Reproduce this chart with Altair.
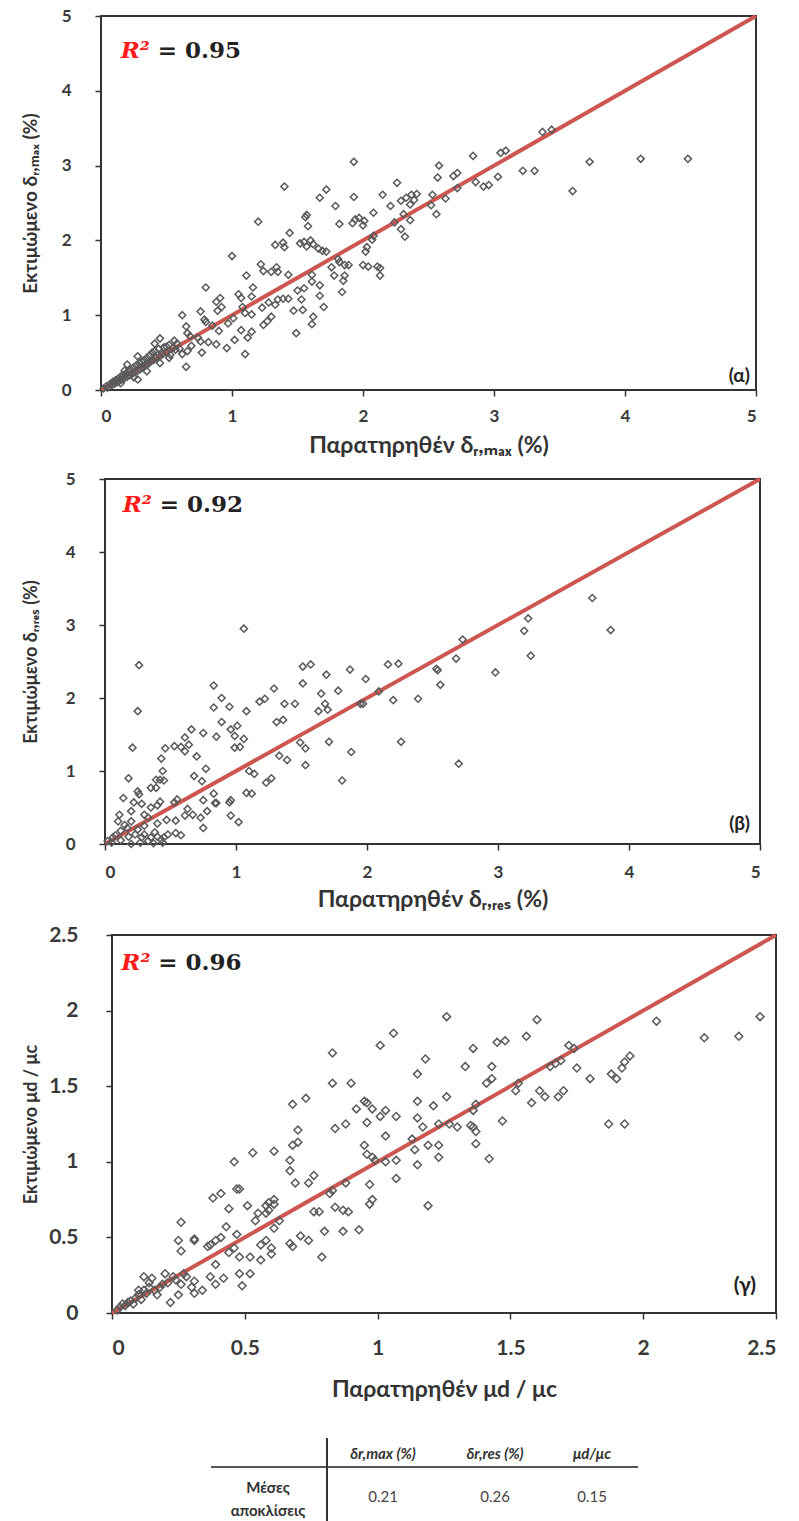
import altair as alt
import pandas as pd

# ---------------- data ----------------
p1_x = [1.93,2.84,3.05,3.09,2.58,2.57,2.69,2.72,3.31,3.03,2.86,2.92,2.96,2.72,2.26,2.53,2.63,2.56,2.52,1.40,1.72,1.67,1.93,2.15,1.79,2.21,2.29,2.33,2.37,2.41,2.39,2.36,2.31,2.08,2.24,2.36,2.29,2.32,1.94,1.97,2.01,1.92,2.00,1.82,1.57,1.56,1.58,1.20,1.44,1.33,1.39,1.40,1.52,1.55,1.60,1.62,1.57,1.66,1.69,1.72,2.08,2.07,2.03,2.02,1.81,1.82,1.86,1.89,2.00,2.04,2.11,2.13,2.13,1.76,1.78,1.86,1.85,1.84,1.00,1.22,1.24,1.30,1.34,1.35,1.43,1.11,1.61,1.61,1.55,1.50,1.53,1.67,1.67,1.70,1.47,1.54,1.62,1.61,1.49,0.80,1.16,1.15,1.05,1.07,1.08,1.10,1.15,0.91,0.88,0.92,0.89,1.23,1.28,1.35,1.39,1.43,1.33,1.30,1.27,1.24,0.97,1.01,0.76,0.79,0.80,0.85,0.90,1.07,1.15,1.12,1.02,1.10,0.62,0.65,0.66,0.68,0.74,0.76,0.82,0.88,0.96,0.77,0.65,0.45,0.41,0.50,0.56,0.57,0.52,0.62,0.66,0.69,0.28,0.20,0.28,
        3.37,3.44,3.73,3.60,4.12,4.48,3.22,
        0.02,0.04,0.05,0.07,0.08,0.09,0.10,0.11,0.12,0.13,0.14,0.15,0.16,0.17,0.18,0.19,0.20,0.21,0.22,0.23,0.24,0.25,0.26,0.27,0.28,0.29,0.30,0.31,0.32,0.33,0.34,0.35,0.36,0.37,0.38,0.39,0.40,0.41,0.42,0.44,0.45,0.47,0.48,0.50,0.52,0.53,0.55,0.58,0.60,0.35,0.25,0.15,0.45,0.18]
p1_y = [3.05,3.13,3.17,3.20,3.00,2.84,2.86,2.90,2.93,2.85,2.78,2.72,2.74,2.70,2.77,2.61,2.56,2.35,2.47,2.72,2.68,2.57,2.58,2.61,2.46,2.46,2.53,2.57,2.61,2.62,2.54,2.48,2.35,2.37,2.24,2.27,2.15,2.05,2.28,2.30,2.26,2.23,2.20,2.22,2.34,2.31,2.19,2.25,2.10,1.94,1.97,1.91,1.96,1.98,2.00,1.95,1.92,1.89,1.86,1.85,2.06,2.01,1.91,1.85,1.75,1.71,1.67,1.67,1.67,1.65,1.65,1.63,1.53,1.64,1.53,1.53,1.46,1.31,1.79,1.68,1.59,1.58,1.64,1.58,1.54,1.53,1.54,1.45,1.36,1.33,1.21,1.40,1.26,1.11,1.06,1.07,0.98,0.88,0.76,1.37,1.37,1.25,1.28,1.23,1.11,1.03,1.01,1.23,1.18,1.11,1.06,1.10,1.17,1.21,1.22,1.22,1.14,0.98,0.92,0.87,0.89,0.96,1.05,0.94,0.91,0.86,0.79,0.80,0.78,0.70,0.67,0.48,1.00,0.85,0.76,0.72,0.70,0.65,0.64,0.61,0.56,0.50,0.31,0.69,0.62,0.58,0.66,0.54,0.43,0.48,0.52,0.59,0.45,0.34,0.14,
        3.45,3.48,3.05,2.66,3.09,3.09,2.93,
        0.02,0.05,0.03,0.08,0.06,0.11,0.08,0.13,0.10,0.15,0.12,0.18,0.14,0.20,0.16,0.22,0.18,0.25,0.20,0.27,0.22,0.30,0.24,0.33,0.26,0.36,0.28,0.38,0.30,0.40,0.33,0.43,0.35,0.46,0.38,0.50,0.40,0.52,0.43,0.55,0.45,0.48,0.57,0.50,0.60,0.47,0.56,0.62,0.55,0.25,0.17,0.09,0.36,0.26]

p2_x = [1.06,0.26,0.25,0.21,0.18,3.23,3.20,3.25,2.73,2.68,2.53,2.54,2.56,2.98,2.70,2.26,2.39,2.20,2.16,2.24,2.09,1.99,1.95,1.97,1.87,1.78,1.69,1.65,1.68,1.70,1.63,1.71,1.88,1.81,1.51,1.57,1.51,1.45,1.37,1.29,1.18,1.22,1.08,1.31,1.36,1.49,1.53,1.33,1.39,1.53,1.10,1.14,1.23,1.27,1.08,1.12,0.83,0.83,0.89,0.95,0.89,0.96,1.01,0.99,1.06,0.99,1.03,0.85,0.66,0.75,0.61,0.64,0.58,0.61,0.53,0.46,0.70,0.77,0.68,0.74,0.43,0.44,0.42,0.39,0.45,0.35,0.39,0.25,0.26,0.22,0.14,0.42,0.40,0.55,0.53,0.54,0.47,0.63,0.67,0.61,0.75,0.78,0.73,0.75,0.83,0.85,0.84,0.96,0.95,0.96,1.02,0.54,0.58,0.10,0.15,0.20,0.30,0.33,0.17,0.28,0.35,0.43,0.45,0.48,0.38,0.33,0.23,0.06,0.02,
        3.72,3.86,
        0.05,0.08,0.12,0.18,0.25,0.30,0.40,0.27,0.37,0.44,0.12,0.20,0.30,0.40,0.11,0.20,0.28,0.35]
p2_y = [2.95,2.45,1.82,1.32,0.90,3.09,2.92,2.58,2.80,2.54,2.40,2.38,2.18,2.35,1.10,1.40,1.99,1.97,2.46,2.47,2.09,2.26,1.92,1.92,2.39,2.10,2.32,2.06,1.92,1.84,1.82,1.40,1.26,0.87,2.43,2.46,2.20,1.92,1.92,2.13,1.95,1.99,1.82,1.67,1.70,1.39,1.31,1.21,1.15,1.08,1.00,0.96,0.84,0.90,0.70,0.69,2.17,1.87,2.00,1.88,1.67,1.57,1.62,1.48,1.44,1.32,1.33,1.47,1.57,1.52,1.46,1.36,1.33,1.27,1.34,1.31,1.20,1.03,0.93,0.86,1.17,1.00,0.88,0.88,0.87,0.77,0.77,0.72,0.68,0.57,0.63,0.58,0.53,0.61,0.57,0.32,0.33,0.48,0.40,0.39,0.60,0.45,0.36,0.22,0.69,0.56,0.56,0.60,0.57,0.39,0.30,0.15,0.12,0.31,0.26,0.31,0.40,0.36,0.22,0.09,0.09,0.06,0.09,0.13,0.16,0.04,0.13,0.09,0.04,
        3.37,2.93,
        0.02,0.12,0.18,0.10,0.20,0.25,0.28,0.02,0.01,0.02,0.05,0.00,0.13,0.10,0.40,0.45,0.55,0.50]

p3_x = [1.26,1.60,1.06,1.01,0.83,1.56,1.45,1.48,1.36,1.18,1.33,1.43,1.15,1.41,1.43,0.83,0.90,1.52,1.53,1.58,1.61,1.63,1.65,1.67,1.69,1.68,1.70,1.47,0.68,0.73,0.70,0.68,0.70,0.53,0.61,0.67,0.67,0.69,0.74,0.76,0.46,0.47,0.48,0.38,0.41,0.44,0.51,0.54,0.55,0.58,0.59,0.61,0.61,0.59,0.58,0.63,0.61,0.26,0.25,0.26,0.31,0.31,0.36,0.37,0.39,0.41,0.43,0.47,0.44,0.46,0.39,0.37,0.39,0.42,0.48,0.52,0.56,0.56,0.58,0.60,0.60,0.48,0.52,0.49,0.67,0.68,0.71,0.74,0.79,0.80,0.84,0.87,0.89,0.87,0.93,0.82,0.83,0.88,0.97,0.97,0.98,0.78,0.76,0.84,0.88,0.92,0.95,0.96,0.98,1.01,1.03,1.07,0.96,0.95,0.96,0.98,0.99,1.03,1.03,1.07,1.07,1.15,1.15,1.17,1.21,1.13,1.14,1.15,1.19,1.23,1.23,1.19,1.26,1.23,1.27,1.30,1.35,1.36,1.37,1.36,1.37,1.37,1.42,
        0.22,0.25,0.30,0.31,0.34,0.31,0.27,0.23,0.20,0.19,0.15,0.12,0.14,0.12,0.09,0.07,0.04,0.02,0.03,0.05,0.06,0.08,0.10,0.11,0.13,0.16,0.17,0.18,0.21,0.24,0.26,0.28,0.14,0.10,
        1.72,1.74,1.75,1.80,1.88,1.90,1.92,1.93,1.95,1.87,1.93,2.05,2.23,2.36,2.44]
p3_y = [1.96,1.94,1.85,1.77,1.72,1.83,1.79,1.80,1.75,1.68,1.63,1.63,1.58,1.52,1.55,1.52,1.52,1.47,1.52,1.39,1.47,1.43,1.63,1.65,1.67,1.43,1.47,1.27,1.38,1.42,1.21,1.11,1.13,1.06,1.07,1.01,0.94,0.86,0.86,0.91,1.00,0.82,0.82,0.76,0.79,0.69,0.71,0.61,0.66,0.71,0.73,0.75,0.72,0.68,0.66,0.61,0.56,0.60,0.48,0.41,0.49,0.48,0.44,0.45,0.48,0.50,0.57,0.52,0.40,0.43,0.32,0.24,0.19,0.23,0.37,0.37,0.35,0.45,0.48,0.43,0.39,0.26,0.26,0.18,0.46,0.44,0.51,0.48,0.37,0.54,0.70,0.68,0.67,0.54,0.55,0.79,0.81,0.86,0.85,0.72,0.75,0.67,0.67,1.22,1.25,1.35,1.40,1.39,1.35,1.30,1.34,1.30,1.26,1.11,1.05,1.03,1.01,1.17,1.00,1.01,0.89,1.40,1.29,1.23,1.37,1.15,1.08,0.98,1.11,1.11,1.03,0.71,1.43,1.25,1.25,1.23,1.24,1.23,1.38,1.34,1.20,1.12,1.02,
        0.07,0.12,0.17,0.13,0.15,0.21,0.26,0.24,0.26,0.19,0.23,0.24,0.17,0.15,0.10,0.08,0.06,0.02,0.04,0.05,0.07,0.06,0.12,0.09,0.13,0.15,0.12,0.17,0.20,0.22,0.19,0.24,0.20,0.15,
        1.77,1.75,1.62,1.55,1.58,1.55,1.62,1.66,1.70,1.25,1.25,1.93,1.82,1.83,1.96]

axis_max = [5, 5, 2.5]
ticks_12 = [0, 1, 2, 3, 4, 5]
ticks_3 = [0, 0.5, 1, 1.5, 2, 2.5]
x_titles = ["Παρατηρηθέν δᵣ,ₘₐₓ (%)", "Παρατηρηθέν δᵣ,ᵣₑₛ (%)", "Παρατηρηθέν μd / μc"]
y_titles = ["Εκτιμώμενο δᵣ,ₘₐₓ (%)", "Εκτιμώμενο δᵣ,ᵣₑₛ (%)", "Εκτιμώμενο μd / μc"]
r2_values = ["= 0.95", "= 0.92", "= 0.96"]
panel_tags = ["(α)", "(β)", "(γ)"]

table_cols = ["", "δr,max (%)", "δr,res (%)", "μd/μc"]
table_row_label = "Μέσες\nαποκλίσεις"
table_values = ["0.21", "0.26", "0.15"]

# ---------------- styling ----------------
SANS = "Lato, 'Open Sans', sans-serif"
SERIF = "'DejaVu Serif', 'Liberation Serif', serif"
AX = "#333333"
RED_LINE = "#cd5650"
PT = "#5a5a5a"


def panel(xs, ys, vmax, ticks, fmt, xt, yt, r2, tag, sh, pw, h, st):
    xsc = alt.Scale(domain=[0, vmax], nice=False, zero=True, range=[sh, sh + pw])
    ysc = alt.Scale(domain=[0, vmax], nice=False, zero=True)
    xax = alt.Axis(values=ticks, format=fmt, title=xt, domain=False,
                   labelPadding=st["xlp"], titlePadding=st["xtp"],
                   labelFontSize=st["lfs"], titleFontSize=st["tfs"])
    yax = alt.Axis(values=ticks, format=fmt, title=yt, domain=False, offset=-sh,
                   labelPadding=st["ylp"], titleX=-61 - sh,
                   labelFontSize=st["lfs"], titleFontSize=st["ytfs"])
    pts = pd.DataFrame({"x": xs, "y": ys})
    diag = pd.DataFrame({"x": [0, vmax], "y": [0, vmax]})
    one = pd.DataFrame({"k": [0]})
    frame = alt.Chart(one).mark_rect(fill="white", fillOpacity=0, stroke=AX, strokeWidth=2).encode(
        x=alt.value(sh), x2=alt.value(sh + pw), y=alt.value(0), y2=alt.value(h))
    line = alt.Chart(diag).mark_line(color=RED_LINE, strokeWidth=4).encode(
        x=alt.X("x:Q", scale=xsc, axis=xax), y=alt.Y("y:Q", scale=ysc, axis=yax))
    points = alt.Chart(pts).mark_point(shape="diamond", filled=False, stroke=PT,
                                       strokeWidth=1.5, size=st["ms"], opacity=1).encode(
        x=alt.X("x:Q", scale=xsc), y=alt.Y("y:Q", scale=ysc))
    ann = pd.DataFrame({"x": [vmax * st["rx"]], "y": [vmax * st["ry"]], "r": ["R²"], "v": [r2]})
    rlab = alt.Chart(ann).mark_text(font=SERIF, fontSize=23, fontWeight="bold", fontStyle="italic",
                                    color="#ff1a1a", align="left", baseline="middle").encode(
        x=alt.X("x:Q", scale=xsc), y=alt.Y("y:Q", scale=ysc), text="r:N")
    vlab = alt.Chart(ann).mark_text(font=SERIF, fontSize=23, fontWeight="bold", color="#222222",
                                    align="left", baseline="middle", dx=37).encode(
        x=alt.X("x:Q", scale=xsc), y=alt.Y("y:Q", scale=ysc), text="v:N")
    tg = pd.DataFrame({"x": [vmax], "y": [0], "t": [tag]})
    tlab = alt.Chart(tg).mark_text(font=SANS, fontSize=st["tagfs"], fontWeight="bold", color="#222222",
                                   align="right", baseline="middle", dx=st["tdx"], dy=st["tdy"]).encode(
        x=alt.X("x:Q", scale=xsc), y=alt.Y("y:Q", scale=ysc), text="t:N")
    return alt.layer(frame, line, points, rlab, vlab, tlab).properties(
        width=sh + pw, height=h, view=alt.ViewBackground(stroke="transparent"))


st1 = dict(xlp=12, xtp=10, ylp=24, lfs=17, tfs=23, ytfs=19, ms=50, rx=0.03, ry=0.906,
           tagfs=19, tdx=-6, tdy=-14)
st2 = dict(xlp=14, xtp=8, ylp=24, lfs=17, tfs=23, ytfs=18, ms=50, rx=0.027, ry=0.93,
           tagfs=19, tdx=-10, tdy=-20)
st3 = dict(xlp=18, xtp=20, ylp=28, lfs=21, tfs=23, ytfs=18, ms=62, rx=0.014, ry=0.926,
           tagfs=21, tdx=-20, tdy=-27)

c1 = panel(p1_x, p1_y, axis_max[0], ticks_12, "d", x_titles[0], y_titles[0], r2_values[0], panel_tags[0], 0, 655, 374, st1)
c2 = panel(p2_x, p2_y, axis_max[1], ticks_12, "d", x_titles[1], y_titles[1], r2_values[1], panel_tags[1], 4, 655, 365, st2)
c3 = panel(p3_x, p3_y, axis_max[2], ticks_3, "~g", x_titles[2], y_titles[2], r2_values[2], panel_tags[2], 11, 664, 378, st3)

# ---------------- table ----------------
TOP = 24
cells = pd.DataFrame({
    "ci": [1, 2, 3, 1, 2, 3, 0],
    "row": ["h", "h", "h", "v", "v", "v", "v"],
    "kind": ["head"] * 3 + ["val"] * 3 + ["lab"],
    "t": table_cols[1:] + table_values + [table_row_label],
})
xs_t = alt.Scale(domain=[0, 1, 2, 3], range=[167, 282, 394, 491])
ys_t = alt.Scale(domain=["h", "v"], range=[TOP + 16, TOP + 62], type="point", padding=0)
base = alt.Chart(cells)
enc = dict(x=alt.X("ci:Q", scale=xs_t, axis=None), y=alt.Y("row:N", scale=ys_t, axis=None), text="t:N")
th = base.transform_filter(alt.datum.kind == "head").mark_text(
    font=SANS, fontSize=15, fontStyle="italic", fontWeight="bold", color="#333333").encode(**enc)
tv = base.transform_filter(alt.datum.kind == "val").mark_text(
    font=SANS, fontSize=15, color="#444444", dy=-3).encode(**enc)
tl = base.transform_filter(alt.datum.kind == "lab").mark_text(
    font=SANS, fontSize=15, fontWeight="bold", color="#333333", lineBreak="\n", lineHeight=23,
    dy=-12).encode(**enc)
one = pd.DataFrame({"k": [0]})
hr = alt.Chart(one).mark_rule(color="#555555", strokeWidth=2).encode(
    x=alt.value(110), x2=alt.value(537), y=alt.value(TOP + 29))
vr = alt.Chart(one).mark_rule(color="#333333", strokeWidth=2).encode(
    x=alt.value(226), y=alt.value(TOP), y2=alt.value(TOP + 84))
table = alt.layer(hr, vr, th, tv, tl).properties(
    width=655, height=TOP + 84, view=alt.ViewBackground(stroke="transparent"))

chart = alt.vconcat(c1, c2, c3, table, spacing=11).properties(
    padding={"left": 20, "top": 6, "right": 5, "bottom": 0}, background="white"
).configure_axis(
    grid=False, tickColor=AX, tickSize=6, tickWidth=1.5,
    labelFont=SANS, labelFontWeight="bold", labelColor="#3a3a3a",
    titleFont=SANS, titleFontWeight="bold", titleColor="#333333"
)

chart.save("out.html", embed_options={"renderer": "svg", "actions": False})
